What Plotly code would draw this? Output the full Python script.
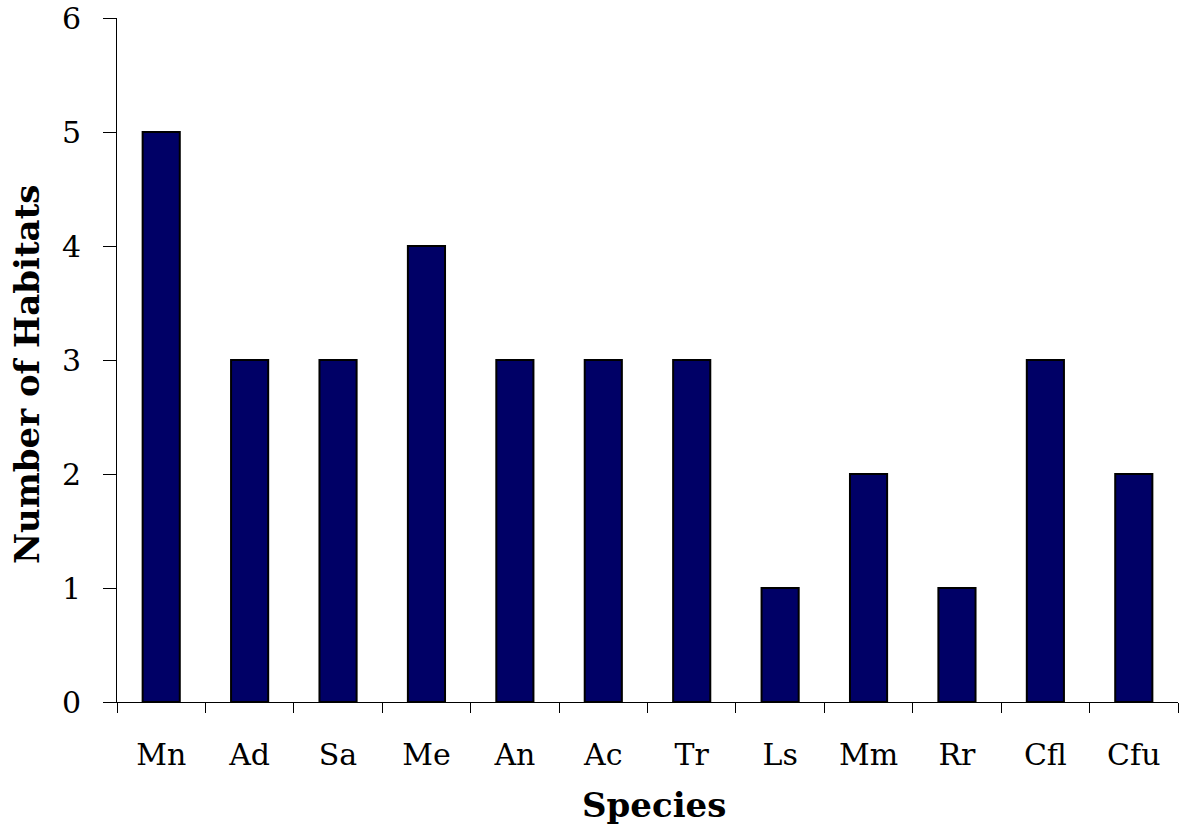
import plotly.graph_objects as go

species = ["Mn", "Ad", "Sa", "Me", "An", "Ac", "Tr", "Ls", "Mm", "Rr", "Cfl", "Cfu"]
habitats = [5, 3, 3, 4, 3, 3, 3, 1, 2, 1, 3, 2]
y_ticks = [0, 1, 2, 3, 4, 5, 6]

FONT = "DejaVu Serif"

fig = go.Figure(go.Bar(
    x=species, y=habitats,
    marker=dict(color="#000066", line=dict(color="#000000", width=2)),
))

fig.update_layout(
    width=1182, height=827,
    margin=dict(l=117, r=4, t=18, b=125),
    plot_bgcolor="white", paper_bgcolor="white",
    bargap=0.58,
    showlegend=False,
    font=dict(family=FONT, size=30, color="black"),
    xaxis=dict(
        type="category", tickson="boundaries",
        ticks="outside", ticklen=10, tickcolor="black", tickwidth=1,
        showline=True, linecolor="black", linewidth=1,
        showgrid=False, zeroline=False,
        ticklabelstandoff=26,
        ticklabeloverflow="allow",
        automargin=False,
        tickfont=dict(family=FONT, size=30),
    ),
    yaxis=dict(
        range=[0, 6], tickvals=y_ticks,
        ticks="outside", ticklen=13, tickcolor="black", tickwidth=1,
        showline=True, linecolor="black", linewidth=1,
        showgrid=False, zeroline=False,
        ticklabelstandoff=16,
        ticklabeloverflow="allow",
        automargin=False,
        tickfont=dict(family=FONT, size=30),
    ),
    annotations=[
        dict(text="<b>Species</b>", xref="paper", yref="paper", x=0.5, y=0,
             xanchor="center", yanchor="middle", xshift=6, yshift=-103,
             showarrow=False, font=dict(family=FONT, size=34)),
        dict(text="<b>Number of Habitats</b>", xref="paper", yref="paper", x=0, y=0.5,
             xanchor="center", yanchor="middle", xshift=-90, yshift=-14, textangle=-90,
             showarrow=False, font=dict(family=FONT, size=34)),
    ],
)

fig.write_html(
    "out.html",
    config={"displayModeBar": False},
    post_script="document.body.style.margin='0';document.body.style.overflow='hidden';",
)
